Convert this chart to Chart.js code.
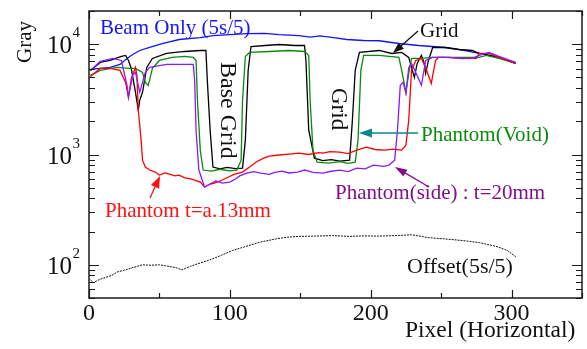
<!DOCTYPE html>
<html>
<head>
<meta charset="utf-8">
<script src="https://cdn.jsdelivr.net/npm/chart.js@4"></script>
<style>
  html, body { margin: 0; padding: 0; background: #fff; }
</style>
</head>
<body>
<canvas id="chart" width="587" height="349"></canvas>
<script>
// Beam Only (5s/5)
const beamX = [1, 8, 15, 22, 27, 31, 36, 43, 52, 64, 79, 88, 100, 112, 125, 135, 149, 157, 164, 175, 183, 195, 206, 220, 234, 253, 266, 277, 291, 303];
const beamY = [5907, 6031, 6158, 6555, 7427, 8071, 8772, 9337, 10146, 11030, 11495, 11984, 12236, 12494, 12550, 12236, 11984, 11600, 11900, 11400, 11030, 10800, 10750, 10146, 9733, 9337, 8772, 8241, 7583, 6693];

// Grid
const gridX = [1, 8, 15, 23, 26, 28, 30, 33, 35, 36, 38, 41, 45, 55, 68, 79, 83, 84, 86, 88, 93, 98, 104, 109, 111, 113, 115, 125, 135, 146, 153, 154, 156, 160, 166, 172, 178, 185, 187, 189, 192, 206, 215, 222, 227, 229, 231, 233, 236, 238, 239, 241, 244, 253, 263, 272, 277, 291, 303];
const gridY = [5786, 6834, 7124, 7742, 7905, 7124, 6031, 3661, 2521, 3100, 3661, 6158, 7427, 8241, 8591, 8772, 8772, 4699, 1661, 769, 740, 765, 745, 753, 1349, 5786, 9533, 9733, 9938, 9733, 9733, 7124, 1661, 927, 880, 900, 870, 889, 2049, 5786, 8414, 8772, 8241, 8414, 7583, 6158, 5002, 6693, 7905, 6693, 5436, 7124, 9337, 9337, 8956, 8772, 8241, 7583, 6693];

// Phantom(Void)
const voidX = [1, 8, 20, 29, 33, 38, 40, 42, 43, 45, 50, 59, 68, 74, 76, 77, 79, 81, 87, 93, 100, 105, 108, 109, 111, 114, 128, 142, 153, 156, 157, 159, 162, 170, 178, 184, 189, 191, 193, 195, 206, 220, 222, 225, 227, 229, 236, 244, 256, 272, 277, 282, 291, 303];
const voidY = [5214, 5786, 6158, 6031, 6031, 5550, 4508, 4235, 4699, 6031, 7124, 7583, 7742, 7583, 7124, 3100, 1095, 723, 708, 735, 710, 723, 889, 3100, 7742, 8414, 8591, 8772, 8591, 7905, 3100, 1095, 853, 836, 860, 830, 853, 1349, 5786, 7905, 7905, 7583, 5786, 3661, 5436, 7427, 7427, 7583, 7583, 7583, 7583, 7905, 7427, 6693];

// Phantom t=a.13mm
const redX = [1, 8, 15, 22, 26, 28, 30, 33, 34, 35, 37, 38, 40, 43, 47, 50, 54, 57, 61, 64, 68, 72, 75, 79, 82, 86, 89, 95, 99, 103, 109, 114, 119, 124, 128, 135, 142, 149, 156, 163, 166, 171, 178, 184, 190, 197, 203, 210, 216, 222, 225, 227, 229, 232, 236, 239, 243, 246, 248, 256, 265, 275, 277, 284, 291, 303];
const redY = [5107, 6031, 6031, 5786, 4508, 3299, 4899, 6158, 5214, 2521, 1349, 889, 769, 723, 693, 651, 680, 665, 640, 651, 615, 600, 587, 563, 507, 540, 551, 590, 625, 660, 693, 769, 860, 927, 967, 990, 1010, 1029, 1000, 1040, 1029, 1060, 1050, 1020, 1095, 1166, 1110, 1095, 1120, 1095, 1216, 2049, 5786, 7124, 7427, 6158, 4415, 7124, 7583, 7583, 7400, 7427, 8241, 8241, 7583, 6693];

// Phantom(side) : t=20mm
const sideX = [1, 8, 17, 23, 27, 28, 31, 33, 36, 40, 43, 55, 64, 74, 75, 76, 78, 82, 86, 90, 95, 100, 104, 107, 112, 117, 122, 128, 132, 137, 142, 148, 153, 159, 166, 172, 178, 184, 190, 196, 202, 209, 213, 217, 219, 221, 223, 225, 227, 229, 232, 236, 239, 244, 253, 265, 272, 277, 284, 291, 303];
const sideY = [5786, 6977, 7427, 7124, 4235, 3299, 5214, 5550, 3661, 5550, 6158, 6555, 6555, 6555, 4699, 1661, 723, 507, 540, 575, 550, 563, 600, 640, 679, 700, 679, 660, 690, 708, 680, 693, 723, 690, 679, 705, 723, 700, 753, 740, 802, 780, 802, 889, 1661, 4235, 4508, 3586, 6158, 6693, 5550, 4235, 7124, 7583, 7583, 7427, 7427, 7905, 8414, 7742, 6834];

// Offset(5s/5)
const offsetX = [1, 3, 8, 12, 16, 20, 26, 32, 38, 44, 50, 56, 62, 66, 72, 79, 86, 94, 102, 110, 121, 133, 141, 149, 160, 173, 185, 195, 205, 218, 229, 236, 241, 252, 265, 277, 289, 297, 303];
const offsetY = [73, 69, 74, 77, 80, 86, 90, 95, 100, 99, 100, 97, 94, 90, 97, 104, 111, 122, 135, 145, 160, 172, 178, 181, 182, 184, 181, 183, 182, 184, 187, 181, 176, 172, 166, 159, 147, 135, 118];

const xTickValues = [0, 100, 200, 300];
const yTickValues = [100, 1000, 10000];
const yTickExponents = ['2', '3', '4'];
const xMin = 0, xMax = 350, yMin = 50, yMax = 20000;

const SERIF = '"Liberation Serif", "DejaVu Serif", serif';

function pairs(xs, ys) {
  return xs.map((x, i) => ({ x: x, y: ys[i] }));
}

function arrow(ctx, x1, y1, x2, y2, color, headLen, headW) {
  const a = Math.atan2(y2 - y1, x2 - x1);
  ctx.save();
  ctx.strokeStyle = color;
  ctx.fillStyle = color;
  ctx.lineWidth = 1.3;
  ctx.beginPath();
  ctx.moveTo(x1, y1);
  ctx.lineTo(x2 - Math.cos(a) * headLen * 0.8, y2 - Math.sin(a) * headLen * 0.8);
  ctx.stroke();
  ctx.translate(x2, y2);
  ctx.rotate(a);
  ctx.beginPath();
  ctx.moveTo(0, 0);
  ctx.lineTo(-headLen, -headW / 2);
  ctx.lineTo(-headLen, headW / 2);
  ctx.closePath();
  ctx.fill();
  ctx.restore();
}

function text(ctx, s, x, y, color, size, rot) {
  ctx.save();
  ctx.fillStyle = color;
  ctx.font = size + 'px ' + SERIF;
  ctx.textBaseline = 'alphabetic';
  ctx.translate(x, y);
  if (rot) ctx.rotate(rot);
  ctx.fillText(s, 0, 0);
  ctx.restore();
}

const framePlugin = {
  id: 'frame',
  afterDraw(chart) {
    const ctx = chart.ctx;
    const a = chart.chartArea;
    const xs = chart.scales.x, ys = chart.scales.y;
    ctx.save();
    ctx.strokeStyle = '#1a1a1a';
    ctx.lineWidth = 1.5;
    ctx.strokeRect(a.left, a.top, a.right - a.left, a.bottom - a.top);

    // x ticks, inward, bottom and top
    ctx.lineWidth = 1.2;
    ctx.beginPath();
    for (let v = xMin; v <= xMax; v += 50) {
      const px = Math.round(xs.getPixelForValue(v)) + 0.5;
      const len = v % 100 === 0 ? 8 : 5;
      ctx.moveTo(px, a.bottom); ctx.lineTo(px, a.bottom - len);
      ctx.moveTo(px, a.top); ctx.lineTo(px, a.top + len);
    }
    // y ticks (log), inward, left and right
    for (let d = 10; d <= 10000; d *= 10) {
      for (let m = 1; m <= 9; m++) {
        const v = m * d;
        if (v < yMin || v > yMax) continue;
        const py = Math.round(ys.getPixelForValue(v)) + 0.5;
        const len = m === 1 ? 10 : 6;
        ctx.moveTo(a.left, py); ctx.lineTo(a.left + len, py);
        ctx.moveTo(a.right, py); ctx.lineTo(a.right - len, py);
      }
    }
    ctx.stroke();

    // tick labels
    ctx.fillStyle = '#111';
    ctx.font = '24px ' + SERIF;
    ctx.textAlign = 'center';
    ctx.textBaseline = 'alphabetic';
    xTickValues.forEach(v => {
      ctx.fillText(String(v), xs.getPixelForValue(v), a.bottom + 22);
    });
    yTickValues.forEach((v, i) => {
      const py = ys.getPixelForValue(v);
      ctx.font = '25px ' + SERIF;
      ctx.textAlign = 'right';
      ctx.fillText('10', 72, py + 9);
      ctx.font = '15px ' + SERIF;
      ctx.textAlign = 'left';
      ctx.fillText(yTickExponents[i], 72.5, py - 7);
    });
    ctx.textAlign = 'left';
    ctx.restore();

    // axis titles
    text(ctx, 'Gray', 31, 63, '#111', 21, -Math.PI / 2);
    text(ctx, 'Pixel (Horizontal)', 405, 337, '#111', 23.5);

    // annotations
    text(ctx, 'Beam Only (5s/5)', 100, 34, '#1414ff', 21);
    text(ctx, 'Grid', 420, 37, '#111', 21);
    arrow(ctx, 418, 31, 393, 53, '#111', 11, 8);
    text(ctx, 'Base Grid', 221, 62, '#111', 24, Math.PI / 2);
    text(ctx, 'Grid', 332, 88, '#111', 23, Math.PI / 2);
    text(ctx, 'Phantom(Void)', 421, 141, '#0a8a0a', 21);
    arrow(ctx, 418, 133, 359, 133, '#0a8a8a', 13, 9);
    text(ctx, 'Phantom(side) : t=20mm', 335, 199, '#80108a', 21);
    arrow(ctx, 429, 187, 395, 167, '#80108a', 12, 8);
    text(ctx, 'Phantom t=a.13mm', 105, 217, '#ff1010', 21);
    arrow(ctx, 150, 198, 160, 176, '#ff1010', 12, 9);
    text(ctx, 'Offset(5s/5)', 407, 273, '#111', 22);
  }
};

function series(label, xs, ys, color, width, dash) {
  return {
    label: label,
    data: pairs(xs, ys),
    borderColor: color,
    borderWidth: width,
    borderDash: dash || [],
    pointRadius: 0,
    tension: 0,
    fill: false
  };
}

new Chart(document.getElementById('chart').getContext('2d'), {
  type: 'line',
  data: {
    datasets: [
      series('Offset(5s/5)', offsetX, offsetY, '#111', 1, [2, 1]),
      series('Phantom(side) : t=20mm', sideX, sideY, '#8c1aff', 1.3),
      series('Phantom t=a.13mm', redX, redY, '#ff0000', 1.3),
      series('Phantom(Void)', voidX, voidY, '#0a8a0a', 1.3),
      series('Grid', gridX, gridY, '#000000', 1.3),
      series('Beam Only (5s/5)', beamX, beamY, '#1414ff', 1.3)
    ]
  },
  options: {
    responsive: false,
    animation: false,
    devicePixelRatio: 1,
    layout: { padding: { left: 0, top: 11, right: 5, bottom: 0 } },
    plugins: { legend: { display: false }, tooltip: { enabled: false } },
    scales: {
      x: {
        type: 'linear', min: xMin, max: xMax,
        grid: { display: false }, border: { display: false },
        ticks: { display: false },
        afterFit: s => { s.height = 51; }
      },
      y: {
        type: 'logarithmic', min: yMin, max: yMax,
        grid: { display: false }, border: { display: false },
        ticks: { display: false },
        afterFit: s => { s.width = 89; }
      }
    }
  },
  plugins: [framePlugin]
});
</script>
</body>
</html>
